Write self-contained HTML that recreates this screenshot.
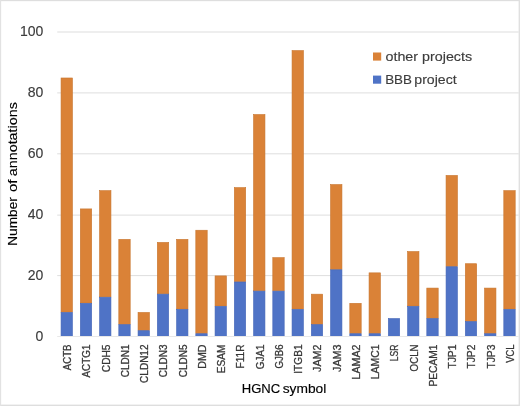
<!DOCTYPE html>
<html><head><meta charset="utf-8"><title>Chart</title>
<style>
html,body{margin:0;padding:0;background:#fff;}
svg{display:block;font-family:"Liberation Sans",sans-serif;will-change:transform;}
</style></head><body>
<svg width="520" height="406" viewBox="0 0 520 406">
<rect x="0" y="0" width="520" height="406" fill="#fff"/>
<rect x="0" y="0" width="520" height="1.15" fill="#DEDEDE"/>
<rect x="0" y="404.6" width="520" height="1.4" fill="#DEDEDE"/>
<rect x="0" y="0" width="1.15" height="406" fill="#E2E2E2"/>
<rect x="518.6" y="0" width="1.4" height="406" fill="#E0E0E0"/>

<rect x="57.2" y="275.10" width="461.5" height="1" fill="#DEDEDE"/>
<rect x="57.2" y="214.60" width="461.5" height="1" fill="#DEDEDE"/>
<rect x="57.2" y="153.30" width="461.5" height="1" fill="#DEDEDE"/>
<rect x="57.2" y="92.40" width="461.5" height="1" fill="#DEDEDE"/>
<rect x="57.2" y="31.50" width="461.5" height="1" fill="#DEDEDE"/>
<rect x="61.05" y="77.98" width="11.4" height="234.16" fill="#DA8237" stroke="#C8762F" stroke-width="0.6"/>
<rect x="61.05" y="312.44" width="11.4" height="24.06" fill="#4F73C6" stroke="#4668B8" stroke-width="0.6"/>
<rect x="80.30" y="208.91" width="11.4" height="94.09" fill="#DA8237" stroke="#C8762F" stroke-width="0.6"/>
<rect x="80.30" y="303.31" width="11.4" height="33.20" fill="#4F73C6" stroke="#4668B8" stroke-width="0.6"/>
<rect x="99.55" y="190.64" width="11.4" height="106.28" fill="#DA8237" stroke="#C8762F" stroke-width="0.6"/>
<rect x="99.55" y="297.22" width="11.4" height="39.28" fill="#4F73C6" stroke="#4668B8" stroke-width="0.6"/>
<rect x="118.80" y="239.36" width="11.4" height="84.96" fill="#DA8237" stroke="#C8762F" stroke-width="0.6"/>
<rect x="118.80" y="324.62" width="11.4" height="11.88" fill="#4F73C6" stroke="#4668B8" stroke-width="0.6"/>
<rect x="138.05" y="312.44" width="11.4" height="17.97" fill="#DA8237" stroke="#C8762F" stroke-width="0.6"/>
<rect x="138.05" y="330.71" width="11.4" height="5.79" fill="#4F73C6" stroke="#4668B8" stroke-width="0.6"/>
<rect x="157.30" y="242.41" width="11.4" height="51.46" fill="#DA8237" stroke="#C8762F" stroke-width="0.6"/>
<rect x="157.30" y="294.17" width="11.4" height="42.33" fill="#4F73C6" stroke="#4668B8" stroke-width="0.6"/>
<rect x="176.55" y="239.36" width="11.4" height="69.74" fill="#DA8237" stroke="#C8762F" stroke-width="0.6"/>
<rect x="176.55" y="309.40" width="11.4" height="27.10" fill="#4F73C6" stroke="#4668B8" stroke-width="0.6"/>
<rect x="195.80" y="230.23" width="11.4" height="103.23" fill="#DA8237" stroke="#C8762F" stroke-width="0.6"/>
<rect x="195.80" y="333.75" width="11.4" height="2.75" fill="#4F73C6" stroke="#4668B8" stroke-width="0.6"/>
<rect x="215.05" y="275.90" width="11.4" height="30.15" fill="#DA8237" stroke="#C8762F" stroke-width="0.6"/>
<rect x="215.05" y="306.35" width="11.4" height="30.15" fill="#4F73C6" stroke="#4668B8" stroke-width="0.6"/>
<rect x="234.30" y="187.60" width="11.4" height="94.09" fill="#DA8237" stroke="#C8762F" stroke-width="0.6"/>
<rect x="234.30" y="281.99" width="11.4" height="54.51" fill="#4F73C6" stroke="#4668B8" stroke-width="0.6"/>
<rect x="253.55" y="114.52" width="11.4" height="176.31" fill="#DA8237" stroke="#C8762F" stroke-width="0.6"/>
<rect x="253.55" y="291.12" width="11.4" height="45.38" fill="#4F73C6" stroke="#4668B8" stroke-width="0.6"/>
<rect x="272.80" y="257.63" width="11.4" height="33.20" fill="#DA8237" stroke="#C8762F" stroke-width="0.6"/>
<rect x="272.80" y="291.12" width="11.4" height="45.38" fill="#4F73C6" stroke="#4668B8" stroke-width="0.6"/>
<rect x="292.05" y="50.57" width="11.4" height="258.53" fill="#DA8237" stroke="#C8762F" stroke-width="0.6"/>
<rect x="292.05" y="309.40" width="11.4" height="27.10" fill="#4F73C6" stroke="#4668B8" stroke-width="0.6"/>
<rect x="311.30" y="294.17" width="11.4" height="30.15" fill="#DA8237" stroke="#C8762F" stroke-width="0.6"/>
<rect x="311.30" y="324.62" width="11.4" height="11.88" fill="#4F73C6" stroke="#4668B8" stroke-width="0.6"/>
<rect x="330.55" y="184.55" width="11.4" height="84.96" fill="#DA8237" stroke="#C8762F" stroke-width="0.6"/>
<rect x="330.55" y="269.81" width="11.4" height="66.69" fill="#4F73C6" stroke="#4668B8" stroke-width="0.6"/>
<rect x="349.80" y="303.31" width="11.4" height="30.15" fill="#DA8237" stroke="#C8762F" stroke-width="0.6"/>
<rect x="349.80" y="333.75" width="11.4" height="2.75" fill="#4F73C6" stroke="#4668B8" stroke-width="0.6"/>
<rect x="369.05" y="272.86" width="11.4" height="60.60" fill="#DA8237" stroke="#C8762F" stroke-width="0.6"/>
<rect x="369.05" y="333.75" width="11.4" height="2.75" fill="#4F73C6" stroke="#4668B8" stroke-width="0.6"/>
<rect x="388.30" y="318.53" width="11.4" height="17.97" fill="#4F73C6" stroke="#4668B8" stroke-width="0.6"/>
<rect x="407.55" y="251.54" width="11.4" height="54.51" fill="#DA8237" stroke="#C8762F" stroke-width="0.6"/>
<rect x="407.55" y="306.35" width="11.4" height="30.15" fill="#4F73C6" stroke="#4668B8" stroke-width="0.6"/>
<rect x="426.80" y="288.08" width="11.4" height="30.15" fill="#DA8237" stroke="#C8762F" stroke-width="0.6"/>
<rect x="426.80" y="318.53" width="11.4" height="17.97" fill="#4F73C6" stroke="#4668B8" stroke-width="0.6"/>
<rect x="446.05" y="175.42" width="11.4" height="91.05" fill="#DA8237" stroke="#C8762F" stroke-width="0.6"/>
<rect x="446.05" y="266.77" width="11.4" height="69.73" fill="#4F73C6" stroke="#4668B8" stroke-width="0.6"/>
<rect x="465.30" y="263.72" width="11.4" height="57.55" fill="#DA8237" stroke="#C8762F" stroke-width="0.6"/>
<rect x="465.30" y="321.57" width="11.4" height="14.93" fill="#4F73C6" stroke="#4668B8" stroke-width="0.6"/>
<rect x="484.55" y="288.08" width="11.4" height="45.38" fill="#DA8237" stroke="#C8762F" stroke-width="0.6"/>
<rect x="484.55" y="333.75" width="11.4" height="2.75" fill="#4F73C6" stroke="#4668B8" stroke-width="0.6"/>
<rect x="503.80" y="190.64" width="11.4" height="118.46" fill="#DA8237" stroke="#C8762F" stroke-width="0.6"/>
<rect x="503.80" y="309.40" width="11.4" height="27.10" fill="#4F73C6" stroke="#4668B8" stroke-width="0.6"/>
<rect x="57.2" y="336" width="461.5" height="1" fill="#E8E8E8"/>
<text x="43.3" y="340.70" text-anchor="end" font-size="14" fill="#3c3c3c" stroke="#3c3c3c" stroke-width="0.15">0</text>
<text x="43.3" y="279.80" text-anchor="end" font-size="14" fill="#3c3c3c" stroke="#3c3c3c" stroke-width="0.15">20</text>
<text x="43.3" y="218.90" text-anchor="end" font-size="14" fill="#3c3c3c" stroke="#3c3c3c" stroke-width="0.15">40</text>
<text x="43.3" y="158.00" text-anchor="end" font-size="14" fill="#3c3c3c" stroke="#3c3c3c" stroke-width="0.15">60</text>
<text x="43.3" y="97.10" text-anchor="end" font-size="14" fill="#3c3c3c" stroke="#3c3c3c" stroke-width="0.15">80</text>
<text x="43.3" y="36.20" text-anchor="end" font-size="14" fill="#3c3c3c" stroke="#3c3c3c" stroke-width="0.15">100</text>
<text transform="translate(71.10,344.5) rotate(-90)" text-anchor="end" font-size="10.7" stroke="#383838" stroke-width="0.3" textLength="25.7" lengthAdjust="spacingAndGlyphs" fill="#383838">ACTB</text>
<text transform="translate(90.35,344.5) rotate(-90)" text-anchor="end" font-size="10.7" stroke="#383838" stroke-width="0.3" textLength="33.0" lengthAdjust="spacingAndGlyphs" fill="#383838">ACTG1</text>
<text transform="translate(109.60,344.5) rotate(-90)" text-anchor="end" font-size="10.7" stroke="#383838" stroke-width="0.3" textLength="27.7" lengthAdjust="spacingAndGlyphs" fill="#383838">CDH5</text>
<text transform="translate(128.85,344.5) rotate(-90)" text-anchor="end" font-size="10.7" stroke="#383838" stroke-width="0.3" textLength="32.7" lengthAdjust="spacingAndGlyphs" fill="#383838">CLDN1</text>
<text transform="translate(148.10,344.5) rotate(-90)" text-anchor="end" font-size="10.7" stroke="#383838" stroke-width="0.3" textLength="38.4" lengthAdjust="spacingAndGlyphs" fill="#383838">CLDN12</text>
<text transform="translate(167.35,344.5) rotate(-90)" text-anchor="end" font-size="10.7" stroke="#383838" stroke-width="0.3" textLength="32.7" lengthAdjust="spacingAndGlyphs" fill="#383838">CLDN3</text>
<text transform="translate(186.60,344.5) rotate(-90)" text-anchor="end" font-size="10.7" stroke="#383838" stroke-width="0.3" textLength="32.7" lengthAdjust="spacingAndGlyphs" fill="#383838">CLDN5</text>
<text transform="translate(205.85,344.5) rotate(-90)" text-anchor="end" font-size="10.7" stroke="#383838" stroke-width="0.3" textLength="24.2" lengthAdjust="spacingAndGlyphs" fill="#383838">DMD</text>
<text transform="translate(225.10,344.5) rotate(-90)" text-anchor="end" font-size="10.7" stroke="#383838" stroke-width="0.3" textLength="28.7" lengthAdjust="spacingAndGlyphs" fill="#383838">ESAM</text>
<text transform="translate(244.35,344.5) rotate(-90)" text-anchor="end" font-size="10.7" stroke="#383838" stroke-width="0.3" textLength="24.0" lengthAdjust="spacingAndGlyphs" fill="#383838">F11R</text>
<text transform="translate(263.60,344.5) rotate(-90)" text-anchor="end" font-size="10.7" stroke="#383838" stroke-width="0.3" textLength="24.7" lengthAdjust="spacingAndGlyphs" fill="#383838">GJA1</text>
<text transform="translate(282.85,344.5) rotate(-90)" text-anchor="end" font-size="10.7" stroke="#383838" stroke-width="0.3" textLength="24.0" lengthAdjust="spacingAndGlyphs" fill="#383838">GJB6</text>
<text transform="translate(302.10,344.5) rotate(-90)" text-anchor="end" font-size="10.7" stroke="#383838" stroke-width="0.3" textLength="29.2" lengthAdjust="spacingAndGlyphs" fill="#383838">ITGB1</text>
<text transform="translate(321.35,344.5) rotate(-90)" text-anchor="end" font-size="10.7" stroke="#383838" stroke-width="0.3" textLength="27.4" lengthAdjust="spacingAndGlyphs" fill="#383838">JAM2</text>
<text transform="translate(340.60,344.5) rotate(-90)" text-anchor="end" font-size="10.7" stroke="#383838" stroke-width="0.3" textLength="27.4" lengthAdjust="spacingAndGlyphs" fill="#383838">JAM3</text>
<text transform="translate(359.85,344.5) rotate(-90)" text-anchor="end" font-size="10.7" stroke="#383838" stroke-width="0.3" textLength="35.0" lengthAdjust="spacingAndGlyphs" fill="#383838">LAMA2</text>
<text transform="translate(379.10,344.5) rotate(-90)" text-anchor="end" font-size="10.7" stroke="#383838" stroke-width="0.3" textLength="34.7" lengthAdjust="spacingAndGlyphs" fill="#383838">LAMC1</text>
<text transform="translate(398.35,344.5) rotate(-90)" text-anchor="end" font-size="10.7" stroke="#383838" stroke-width="0.3" textLength="16.7" lengthAdjust="spacingAndGlyphs" fill="#383838">LSR</text>
<text transform="translate(417.60,344.5) rotate(-90)" text-anchor="end" font-size="10.7" stroke="#383838" stroke-width="0.3" textLength="26.9" lengthAdjust="spacingAndGlyphs" fill="#383838">OCLN</text>
<text transform="translate(436.85,344.5) rotate(-90)" text-anchor="end" font-size="10.7" stroke="#383838" stroke-width="0.3" textLength="42.0" lengthAdjust="spacingAndGlyphs" fill="#383838">PECAM1</text>
<text transform="translate(456.10,344.5) rotate(-90)" text-anchor="end" font-size="10.7" stroke="#383838" stroke-width="0.3" textLength="24.1" lengthAdjust="spacingAndGlyphs" fill="#383838">TJP1</text>
<text transform="translate(475.35,344.5) rotate(-90)" text-anchor="end" font-size="10.7" stroke="#383838" stroke-width="0.3" textLength="24.1" lengthAdjust="spacingAndGlyphs" fill="#383838">TJP2</text>
<text transform="translate(494.60,344.5) rotate(-90)" text-anchor="end" font-size="10.7" stroke="#383838" stroke-width="0.3" textLength="24.1" lengthAdjust="spacingAndGlyphs" fill="#383838">TJP3</text>
<text transform="translate(513.85,344.5) rotate(-90)" text-anchor="end" font-size="10.7" stroke="#383838" stroke-width="0.3" textLength="18.2" lengthAdjust="spacingAndGlyphs" fill="#383838">VCL</text>
<text transform="translate(17.4,245.8) rotate(-90)" font-size="13.6" stroke="#000" stroke-width="0.15" textLength="48.6" lengthAdjust="spacingAndGlyphs" fill="#000">Number</text>
<text transform="translate(17.4,192.1) rotate(-90)" font-size="13.6" stroke="#000" stroke-width="0.15" textLength="12.5" lengthAdjust="spacingAndGlyphs" fill="#000">of</text>
<text transform="translate(17.4,176.2) rotate(-90)" font-size="13.6" stroke="#000" stroke-width="0.15" textLength="74.0" lengthAdjust="spacingAndGlyphs" fill="#000">annotations</text>
<text x="241.7" y="393.4" font-size="13.6" stroke="#000" stroke-width="0.15" textLength="38.5" lengthAdjust="spacingAndGlyphs" fill="#000">HGNC</text>
<text x="282.7" y="393.4" font-size="13.6" stroke="#000" stroke-width="0.15" textLength="43.6" lengthAdjust="spacingAndGlyphs" fill="#000">symbol</text>
<rect x="373" y="52.5" width="8.2" height="8.1" fill="#DA8237"/>
<rect x="373" y="75.6" width="8.2" height="8.1" fill="#4F73C6"/>
<text x="385.5" y="61" font-size="13.3" stroke="#3c3c3c" stroke-width="0.15" textLength="86.6" lengthAdjust="spacingAndGlyphs" fill="#3c3c3c">other projects</text>
<text x="385.2" y="83.9" font-size="13.3" stroke="#3c3c3c" stroke-width="0.15" textLength="26.8" lengthAdjust="spacingAndGlyphs" fill="#3c3c3c">BBB</text>
<text x="414.3" y="83.9" font-size="13.3" stroke="#3c3c3c" stroke-width="0.15" textLength="42.3" lengthAdjust="spacingAndGlyphs" fill="#3c3c3c">project</text>
</svg></body></html>
